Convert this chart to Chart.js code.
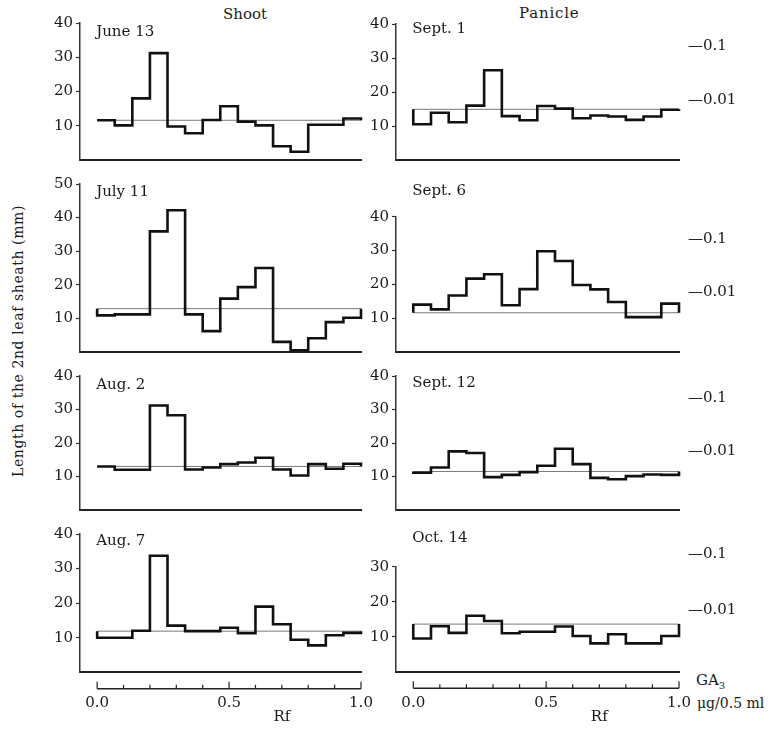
<!DOCTYPE html>
<html>
<head>
<meta charset="utf-8">
<script src="https://cdn.jsdelivr.net/npm/chart.js@4.4.1/dist/chart.umd.min.js"></script>
<style>
    body { margin: 0; background: #fff; width: 773px; height: 729px; position: relative; overflow: hidden;
           font-family: 'DejaVu Serif', serif; color: #1a1a1a; }
    canvas { position: absolute; }
    .txt { position: absolute; white-space: nowrap; font-size: 15px; line-height: 1; }
</style>
</head>
<body>
<div class="txt" style="left:223px;top:7px;">Shoot</div>
<div class="txt" style="left:519px;top:6px;letter-spacing:0.8px;">Panicle</div>
<div class="txt" style="left:18px;top:341px;font-size:14px;transform:translate(-50%,-50%) rotate(-90deg);letter-spacing:0.6px;">Length of the 2nd leaf sheath (mm)</div>
<div class="txt" style="left:696px;top:673px;">GA<sub style="font-size:10px;">3</sub></div>
<div class="txt" style="left:697px;top:696px;font-size:14px;">&mu;g/0.5 ml</div>

<script>
// bins along the Rf axis
const rfBins = 15;

// Shoot extracts (left column)
const june13 = [11.6, 10.1, 18.0, 31.2, 9.8, 7.8, 11.7, 15.7, 11.2, 10.1, 4.0, 2.4, 10.3, 10.3, 12.1];
const july11 = [10.9, 11.2, 11.2, 35.9, 42.2, 11.2, 6.2, 15.9, 19.3, 25.0, 3.0, 0.5, 4.1, 8.9, 10.2];
const aug2 = [13.0, 12.0, 12.0, 31.2, 28.3, 12.1, 12.7, 13.7, 14.2, 15.6, 12.1, 10.3, 13.7, 12.3, 13.8];
const aug7 = [10.0, 10.0, 12.0, 33.7, 13.5, 11.9, 11.9, 12.9, 11.3, 19.0, 13.9, 9.4, 7.8, 10.7, 11.4];

// Panicle extracts (right column)
const sept1 = [10.5, 13.9, 11.1, 16.0, 26.4, 12.9, 11.7, 15.9, 15.1, 12.3, 13.1, 12.8, 11.8, 12.8, 14.8];
const sept6 = [14.0, 12.6, 16.7, 21.7, 23.0, 13.8, 18.6, 29.8, 26.9, 19.8, 18.5, 14.8, 10.3, 10.3, 14.3];
const sept12 = [11.1, 12.7, 17.5, 17.0, 9.8, 10.5, 11.3, 13.2, 18.3, 13.7, 9.6, 9.2, 10.1, 10.6, 10.5];
const oct14 = [9.5, 13.0, 11.1, 16.0, 14.5, 11.0, 11.4, 11.4, 12.9, 10.2, 8.1, 10.7, 8.1, 8.1, 10.2];

const dates = ['June 13', 'July 11', 'Aug. 2', 'Aug. 7', 'Sept. 1', 'Sept. 6', 'Sept. 12', 'Oct. 14'];
const series = [june13, july11, aug2, aug7, sept1, sept6, sept12, oct14];
// control (no extract) length, drawn as the thin horizontal line
const controls = [11.6, 12.9, 13.0, 11.9, 14.9, 11.6, 11.5, 13.6];
const yMax = [40, 50, 40, 40, 40, 40, 40, 30];

// GA3 standard responses marked on the right
const ga3Levels = [33.5, 17.6];
const ga3Labels = ['0.1', '0.01'];

// Rf axis under the bottom row
const rfTicks = [0, 0.1, 0.2, 0.3, 0.4, 0.5, 0.6, 0.7, 0.8, 0.9, 1.0];
const rfMajor = [0, 0.5, 1.0];
const rfLabels = ['0.0', '0.5', '1.0'];

const FONT = { family: "'DejaVu Serif', serif", size: 15 };
const INK = '#1a1a1a';

// canvas boxes: left/top/width/height in page px, padding for the plot area, label y in canvas px
const layout = [
    { left: 0,   top: 0,   w: 380, h: 172, pt: 23,   pb: 8.7,  pl: 50, pr: 19, ly: 32 },
    { left: 0,   top: 172, w: 380, h: 192, pt: 9.7,  pb: 7.3,  pl: 50, pr: 19, ly: 20 },
    { left: 0,   top: 364, w: 380, h: 158, pt: 11,   pb: 8,    pl: 50, pr: 19, ly: 21 },
    { left: 0,   top: 522, w: 380, h: 207, pt: 10.7, pb: 56.7, pl: 50, pr: 19, ly: 19, rf: true },
    { left: 362, top: 0,   w: 411, h: 172, pt: 24,   pb: 8.7,  pl: 4,  pr: 0, ly: 29 },
    { left: 362, top: 172, w: 411, h: 192, pt: 44.7, pb: 7.3,  pl: 4,  pr: 0, ly: 19 },
    { left: 362, top: 364, w: 411, h: 158, pt: 10.3, pb: 8,    pl: 4,  pr: 0, ly: 19 },
    { left: 362, top: 522, w: 411, h: 207, pt: 44.7, pb: 57.3, pl: 4,  pr: 0, ly: 16, rf: true }
];

// date written inside each panel
const panelText = {
    id: 'panelText',
    afterDraw(chart, args, opts) {
        const { ctx, scales: { x } } = chart;
        ctx.save();
        ctx.font = "15px 'DejaVu Serif'";
        ctx.fillStyle = INK;
        ctx.textBaseline = 'middle';
        ctx.fillText(opts.text, x.getPixelForValue(0) - 1, opts.y);
        ctx.restore();
    }
};

// separate Rf scale drawn below the bottom panels
const rfAxis = {
    id: 'rfAxis',
    afterDraw(chart, args, opts) {
        if (!opts.show) return;
        const { ctx, chartArea, scales: { x } } = chart;
        const yLine = chartArea.bottom + 16.5;
        ctx.save();
        ctx.strokeStyle = '#222';
        ctx.lineWidth = 1.5;
        ctx.beginPath();
        ctx.moveTo(x.getPixelForValue(0), yLine);
        ctx.lineTo(x.getPixelForValue(1), yLine);
        ctx.stroke();
        ctx.lineWidth = 1.2;
        rfTicks.forEach(t => {
            const px = x.getPixelForValue(t);
            const major = rfMajor.includes(t);
            ctx.beginPath();
            ctx.moveTo(px, yLine);
            ctx.lineTo(px, yLine - (major ? 7 : 4));
            ctx.stroke();
        });
        ctx.font = "15px 'DejaVu Serif'";
        ctx.fillStyle = INK;
        ctx.textAlign = 'center';
        ctx.textBaseline = 'middle';
        rfMajor.forEach((t, i) => ctx.fillText(rfLabels[i], x.getPixelForValue(t), chartArea.bottom + 31));
        ctx.fillText('Rf', x.getPixelForValue(0.7), chartArea.bottom + 45);
        ctx.restore();
    }
};

function stepPoints(vals, ref) {
    const pts = [{ x: 0, y: ref }];
    vals.forEach((v, i) => pts.push({ x: i / rfBins, y: v }));
    pts.push({ x: 1, y: vals[vals.length - 1] });
    pts.push({ x: 1, y: ref });
    return pts;
}

function createPanel(i) {
    const box = layout[i];
    const canvas = document.createElement('canvas');
    canvas.width = box.w;
    canvas.height = box.h;
    canvas.style.left = box.left + 'px';
    canvas.style.top = box.top + 'px';
    document.body.appendChild(canvas);

    const panicle = i >= 4;
    const scales = {
        x: {
            type: 'linear', min: -0.065, max: 1,
            ticks: { display: false },
            grid: { display: false },
            border: { color: '#222', width: 2 },
            afterFit: s => { s.height = 0; }
        },
        y: {
            min: 0, max: yMax[i],
            ticks: { stepSize: 10, font: FONT, color: INK, padding: 3,
                     callback: v => v === 0 ? '' : v },
            grid: { drawOnChartArea: false, tickLength: 4, tickWidth: 1.2,
                    tickColor: c => (c.tick && c.tick.value === 0) ? 'rgba(0,0,0,0)' : '#333' },
            border: { color: '#333', width: 1.5 },
            afterFit: s => { s.width = 30; }
        }
    };
    if (panicle) {
        scales.y2 = {
            position: 'right', min: 0, max: yMax[i],
            afterBuildTicks: s => { s.ticks = ga3Levels.map(v => ({ value: v })); },
            ticks: { font: FONT, color: INK, padding: 1, autoSkip: false,
                     callback: v => '\u2014' + ga3Labels[ga3Levels.indexOf(v)] },
            grid: { display: false },
            border: { display: false },
            afterFit: s => { s.width = 94; }
        };
    }

    return new Chart(canvas.getContext('2d'), {
        type: 'line',
        data: {
            datasets: [{
                data: stepPoints(series[i], controls[i]),
                stepped: true,
                borderColor: '#111',
                borderWidth: 2.6,
                pointRadius: 0,
                fill: false,
                clip: false
            }, {
                data: [{ x: 0, y: controls[i] }, { x: 1, y: controls[i] }],
                borderColor: '#7a7a7a',
                borderWidth: 1,
                pointRadius: 0,
                fill: false,
                clip: false
            }]
        },
        options: {
            responsive: false,
            animation: false,
            events: [],
            layout: { padding: { top: box.pt, bottom: box.pb, left: box.pl, right: box.pr } },
            scales: scales,
            plugins: {
                legend: { display: false },
                tooltip: { enabled: false },
                panelText: { text: dates[i], y: box.ly },
                rfAxis: { show: !!box.rf }
            }
        },
        plugins: [panelText, rfAxis]
    });
}

series.forEach((s, i) => createPanel(i));
</script>
</body>
</html>
